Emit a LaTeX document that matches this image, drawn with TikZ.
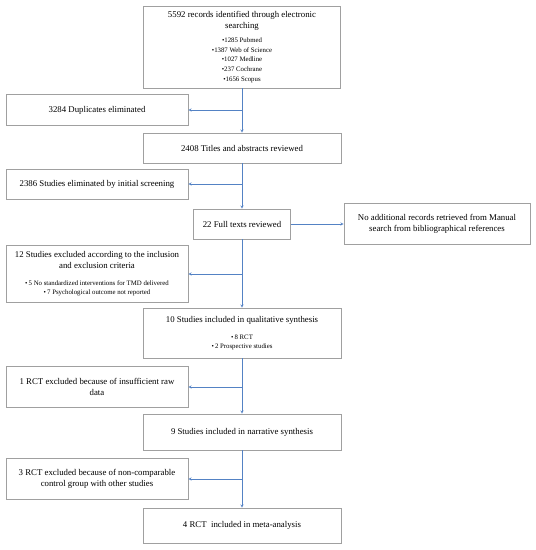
\documentclass[tikz,border=0pt]{standalone}
\usepackage{fontspec}
\setmainfont{Liberation Serif}
\definecolor{boxgray}{RGB}{160,160,160}
\definecolor{flowblue}{RGB}{84,130,196}
\newcommand{\listfont}{\fontsize{6.8}{9.7}\selectfont}

\begin{document}
\begin{tikzpicture}[>=stealth, x=1pt, y=-1pt,
  box/.style={draw=boxgray, line width=0.6pt, fill=white, align=center,
    inner sep=0pt, minimum width=#1,
    font=\fontsize{8.8}{11}\selectfont},
  flow/.style={->, draw=flowblue, line width=0.5pt}]
  \useasboundingbox (0,0) rectangle (536,550);
  % main column
  \node[box=197pt, minimum height=82pt] (search) at (242,47)
    {5592 records identified through electronic\\searching\\[3pt]
     \listfont •1285 Pubmed\\[-1.3pt] \listfont •1387 Web of Science\\[-1.3pt]
     \listfont •1027 Medline\\[-1.3pt] \listfont •237 Cochrane\\[-1.3pt]
     \listfont •1656 Scopus};
  \node[box=198pt, minimum height=30pt] (titles) at (242,148)
    {2408 Titles and abstracts reviewed};
  \node[box=97pt, minimum height=30pt] (full) at (242,224)
    {22 Full texts reviewed};
  \node[box=198pt, minimum height=50pt] (qual) at (242,333)
    {10 Studies included in qualitative synthesis\\[6pt]
     \listfont •\,8 RCT\\[-2pt] \listfont •\,2 Prospective studies};
  \node[box=198pt, minimum height=36pt] (narr) at (242,432)
    {9 Studies included in narrative synthesis};
  \node[box=198pt, minimum height=35pt] (meta) at (242,525.5)
    {4 RCT\ \ included in meta-analysis};
  % exclusions on the left
  \node[box=182pt, minimum height=31pt] (dup) at (97,110)
    {3284 Duplicates eliminated};
  \node[box=182pt, minimum height=30pt] (screen) at (97,184)
    {2386 Studies eliminated by initial screening};
  \node[box=182pt, minimum height=57pt] (excl) at (97,274)
    {12 Studies excluded according to the inclusion\\and exclusion criteria\\[6pt]
     \listfont •\,5 No standardized interventions for TMD delivered\\[-2pt]
     \listfont •\,7 Psychological outcome not reported};
  \node[box=182pt, minimum height=41pt] (rct1) at (97,387)
    {1 RCT excluded because of insufficient raw\\data};
  \node[box=182pt, minimum height=41pt] (rct3) at (97,479)
    {3 RCT excluded because of non-comparable\\control group with other studies};
  % manual search on the right
  \node[box=186pt, minimum height=41pt] (manual) at (437,224)
    {No additional records retrieved from Manual\\search from bibliographical references};
  % arrows down the main column
  \draw[flow] (search) -- (titles);
  \draw[flow] (titles) -- (full);
  \draw[flow] (full) -- (qual);
  \draw[flow] (qual) -- (narr);
  \draw[flow] (narr) -- (meta);
  % side branches
  \draw[flow] (search.south |- dup.east) -- (dup.east);
  \draw[flow] (titles.south |- screen.east) -- (screen.east);
  \draw[flow] (full.south |- excl.east) -- (excl.east);
  \draw[flow] (qual.south |- rct1.east) -- (rct1.east);
  \draw[flow] (narr.south |- rct3.east) -- (rct3.east);
  \draw[flow] (full) -- (manual);
\end{tikzpicture}
\end{document}
